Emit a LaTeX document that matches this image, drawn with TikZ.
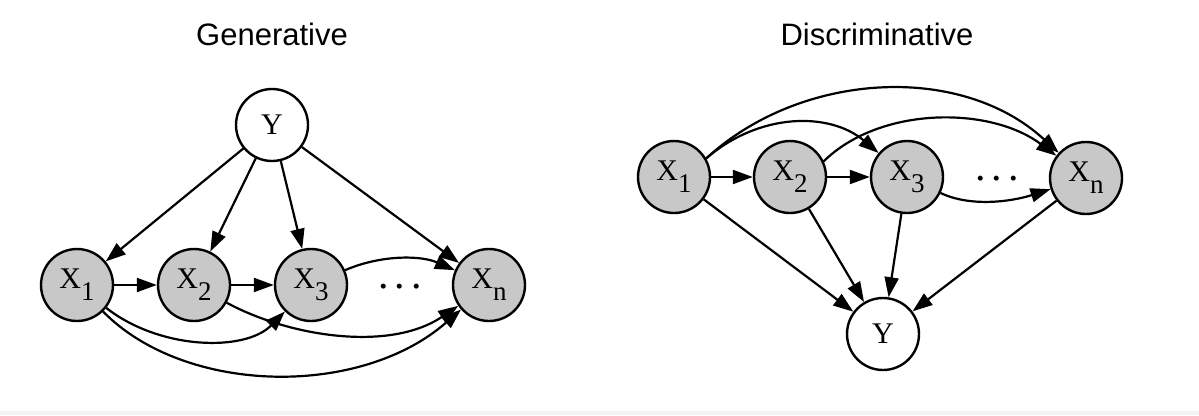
\documentclass[tikz,border=0pt]{standalone}
\usepackage{fontspec}
\setmainfont{Liberation Serif}
\newfontfamily\titlefont{Liberation Sans}
\usetikzlibrary{arrows.meta}
\definecolor{nodegray}{RGB}{200,200,200}
\newcommand\varX[1]{X\raisebox{-12pt}{\fontsize{27}{27}\selectfont #1}}
\newcommand\threedots{.\hspace{6pt}.\hspace{6pt}.}
\begin{document}
\begin{tikzpicture}[x=1pt,y=-1pt,
  var/.style={circle,draw=black,line width=2.4pt,minimum size=72pt,inner sep=0pt,font=\fontsize{30}{30}\selectfont},
  obs/.style={var,fill=nodegray},
  lat/.style={var,fill=white},
  edge/.style={line width=2.2pt,-{Triangle[length=20pt,width=14pt]}},
  title/.style={font=\titlefont\fontsize{31}{31}\selectfont,anchor=base,inner sep=0pt},
  dotsnode/.style={font=\fontsize{42}{42}\selectfont,inner sep=0pt}]
\useasboundingbox (0,0) rectangle (1199,415);
\fill[black!5] (0,411) rectangle (1199,415);

% titles
\node[title] (tg) at (272,45) {Generative};
\node[title] (td) at (877,45) {Discriminative};

% ---------- Generative ----------
\node[lat] (gY) at (272,125) {Y};
\node[obs] (g1) at (77,285) {\varX{1}};
\node[obs] (g2) at (194,285) {\varX{2}};
\node[obs] (g3) at (311,285) {\varX{3}};
\node[obs] (gn) at (489,285) {\varX{n}};
\node[dotsnode] (gdots) at (400,287) {\threedots};

\draw[edge] (gY) -- (g1);
\draw[edge] (gY) -- (g2);
\draw[edge] (gY) -- (g3);
\draw[edge] (gY) -- (gn);
\draw[edge] (g1) -- (g2);
\draw[edge] (g2) -- (g3);
\draw[edge] (g3) .. controls (380,255) and (420,255) .. (gn);
\draw[edge] (g1) .. controls (160,350) and (245,352) .. (g3);
\draw[edge] (g2) .. controls (290,337) and (390,352) .. (gn);
\draw[edge] (g1) .. controls (185,395) and (360,398) .. (gn);

% ---------- Discriminative ----------
\node[obs] (d1) at (674,177) {\varX{1}};
\node[obs] (d2) at (790,177) {\varX{2}};
\node[obs] (d3) at (907,177) {\varX{3}};
\node[obs] (dn) at (1086,178) {\varX{n}};
\node[lat] (dY) at (883,334) {Y};
\node[dotsnode] (ddots) at (997,179) {\threedots};

\draw[edge] (d1) -- (d2);
\draw[edge] (d2) -- (d3);
\draw[edge] (d1.30) .. controls (760,112) and (830,112) .. (d3);
\draw[edge] (d1.30) .. controls (800,72) and (960,62) .. (dn);
\draw[edge] (d2.25) .. controls (880,106) and (990,106) .. (dn);
\draw[edge] (d3) .. controls (970,207) and (1010,202) .. (dn);
\draw[edge] (d1) -- (dY);
\draw[edge] (d2) -- (dY);
\draw[edge] (d3) -- (dY);
\draw[edge] (dn) -- (dY);
\end{tikzpicture}
\end{document}
